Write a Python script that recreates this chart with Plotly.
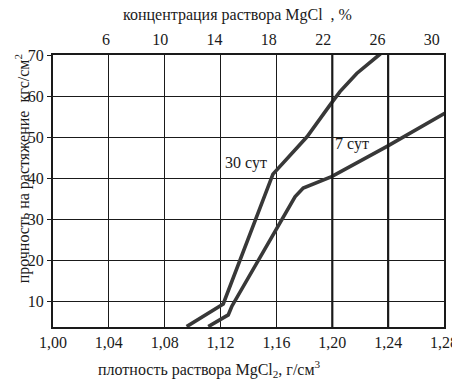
import plotly.graph_objects as go

# ---- data ----
density_ticks = [1.00, 1.04, 1.08, 1.12, 1.16, 1.20, 1.24, 1.28]
density_labels = ["1,00", "1,04", "1,08", "1,12", "1,16", "1,20", "1,24", "1,28"]
conc_ticks = [6, 10, 14, 18, 22, 26, 30]
strength_ticks = [10, 20, 30, 40, 50, 60, 70]

curve30_x = [1.0957, 1.1219, 1.1575, 1.1697, 1.1819, 1.1983, 1.2055, 1.2175, 1.2345]
curve30_y = [3.9, 9.4, 41.0, 45.7, 50.1, 57.8, 61.1, 65.5, 70.3]
curve30_name = "30 сут"

curve7_x = [1.1112, 1.1255, 1.1280, 1.1625, 1.1733, 1.1792, 1.1995, 1.2389, 1.2805]
curve7_y = [3.9, 6.75, 8.8, 29.45, 35.5, 37.6, 40.4, 47.7, 55.8]
curve7_name = "7 сут"

FONT = "Times New Roman, Liberation Serif, serif"
INK = "#1a1a1a"
CURVE = "#383838"

fig = go.Figure()
fig.add_trace(go.Scatter(x=curve30_x, y=curve30_y, mode="lines",
                         line=dict(color=CURVE, width=3.6), showlegend=False))
fig.add_trace(go.Scatter(x=curve7_x, y=curve7_y, mode="lines",
                         line=dict(color=CURVE, width=3.6), showlegend=False))
# invisible trace to activate top axis
fig.add_trace(go.Scatter(x=[conc_ticks[0]], y=[strength_ticks[0]], xaxis="x2",
                         mode="markers", marker=dict(opacity=0), showlegend=False,
                         hoverinfo="skip"))

# page body has an 8px default margin, so the figure is sized to fit inside 460x382
fig.update_layout(
    width=452, height=374,
    margin=dict(l=45, r=16, t=47, b=55, autoexpand=False),
    paper_bgcolor="white", plot_bgcolor="white",
    font=dict(family=FONT, size=15, color=INK),
    xaxis=dict(range=[1.0, 1.28], tickvals=density_ticks, ticktext=density_labels,
               automargin=False,
               showgrid=True, gridcolor=INK, gridwidth=1.4,
               showline=True, linecolor=INK, linewidth=2, mirror=True,
               ticks="", zeroline=False, tickfont=dict(size=16, family=FONT)),
    xaxis2=dict(range=[2.1, 30.9], overlaying="x", side="top",
                tickvals=conc_ticks, showgrid=False, showline=False, automargin=False,
                ticks="", ticklabelstandoff=6, zeroline=False,
                tickfont=dict(size=16, family=FONT)),
    yaxis=dict(range=[3.8, 70], tickvals=strength_ticks, automargin=False,
               showgrid=True, gridcolor=INK, gridwidth=1.4,
               showline=True, linecolor=INK, linewidth=2, mirror=True,
               ticks="outside", ticklen=4, tickcolor=INK, tickwidth=1.4,
               zeroline=False, tickfont=dict(size=16, family=FONT)),
    showlegend=False,
)

# thicker vertical lines at 1.20 and 1.24
for xv in density_ticks[5:7]:
    fig.add_shape(type="line", x0=xv, x1=xv, y0=0, y1=1, xref="x", yref="paper",
                  line=dict(color=INK, width=2.2))

fig.add_annotation(x=1.1385, y=43.7, text=curve30_name, showarrow=False,
                   xanchor="center", yanchor="middle",
                   font=dict(size=16, family=FONT, color=INK))
fig.add_annotation(x=1.2144, y=48.3, text=curve7_name, showarrow=False,
                   xanchor="center", yanchor="middle",
                   font=dict(size=16, family=FONT, color=INK))

fig.add_annotation(xref="paper", yref="paper", x=0.473, y=1.147,
                   xanchor="center", yanchor="middle",
                   text="концентрация раствора MgCl\u00a0\u00a0, %", showarrow=False,
                   font=dict(size=16, family=FONT, color=INK))
fig.add_annotation(xref="paper", yref="paper", x=0.40, y=-0.155,
                   xanchor="center", yanchor="middle",
                   text="плотность раствора MgCl<sub>2</sub>, г/см<sup>3</sup>",
                   showarrow=False, font=dict(size=16, family=FONT, color=INK))
fig.add_annotation(xref="paper", yref="paper", x=-0.079, y=0.58, textangle=-90,
                   xanchor="center", yanchor="middle",
                   text="прочность на растяжение\u00a0\u00a0кгс/см<sup>2</sup>",
                   showarrow=False, font=dict(size=16, family=FONT, color=INK))

fig.write_html("out.html")
